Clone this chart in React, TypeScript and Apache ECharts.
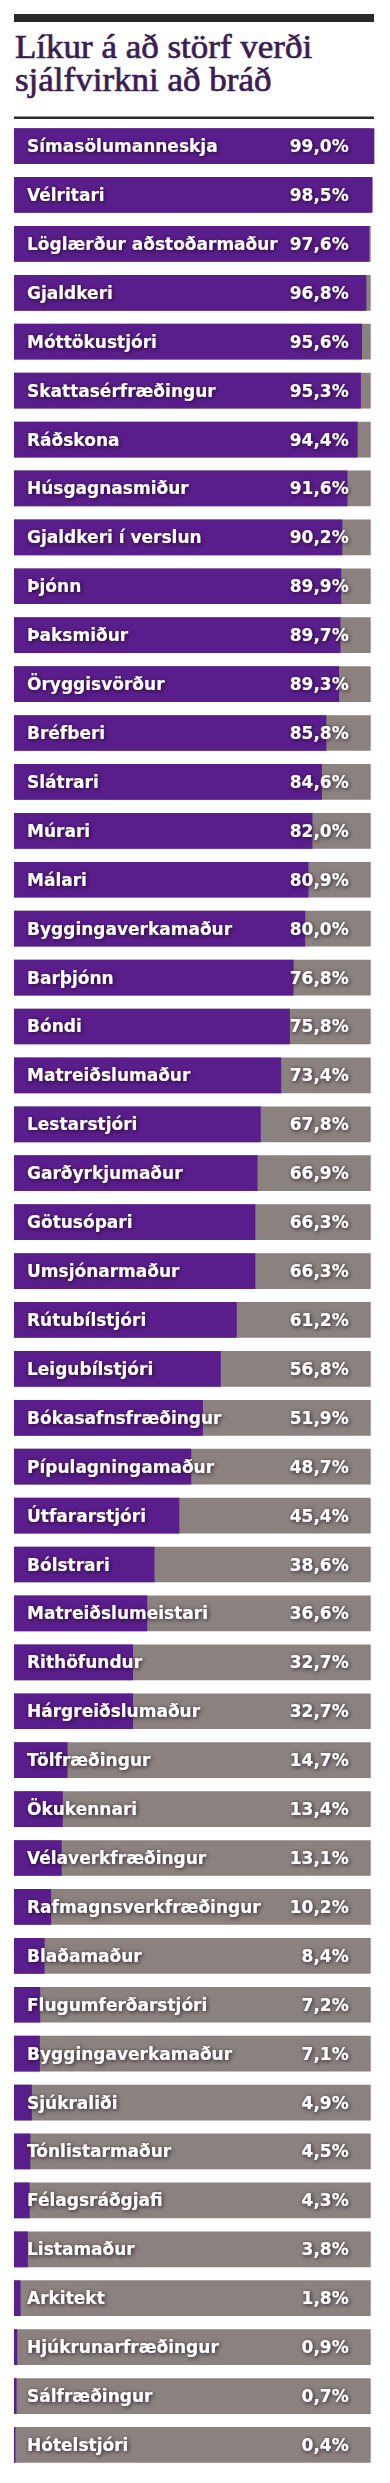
import React, { useEffect, useRef } from "react";
import * as echarts from "echarts";

const TITLE_LINES = ["Líkur á að störf verði", "sjálfvirkni að bráð"];

const NAMES = [
  "Símasölumanneskja", "Vélritari", "Löglærður aðstoðarmaður", "Gjaldkeri", "Móttökustjóri",
  "Skattasérfræðingur", "Ráðskona", "Húsgagnasmiður", "Gjaldkeri í verslun", "Þjónn",
  "Þaksmiður", "Öryggisvörður", "Bréfberi", "Slátrari", "Múrari",
  "Málari", "Byggingaverkamaður", "Barþjónn", "Bóndi", "Matreiðslumaður",
  "Lestarstjóri", "Garðyrkjumaður", "Götusópari", "Umsjónarmaður", "Rútubílstjóri",
  "Leigubílstjóri", "Bókasafnsfræðingur", "Pípulagningamaður", "Útfararstjóri", "Bólstrari",
  "Matreiðslumeistari", "Rithöfundur", "Hárgreiðslumaður", "Tölfræðingur", "Ökukennari",
  "Vélaverkfræðingur", "Rafmagnsverkfræðingur", "Blaðamaður", "Flugumferðarstjóri", "Byggingaverkamaður",
  "Sjúkraliði", "Tónlistarmaður", "Félagsráðgjafi", "Listamaður", "Arkitekt",
  "Hjúkrunarfræðingur", "Sálfræðingur", "Hótelstjóri",
];

const VALUES = [
  99.0, 98.5, 97.6, 96.8, 95.6,
  95.3, 94.4, 91.6, 90.2, 89.9,
  89.7, 89.3, 85.8, 84.6, 82.0,
  80.9, 80.0, 76.8, 75.8, 73.4,
  67.8, 66.9, 66.3, 66.3, 61.2,
  56.8, 51.9, 48.7, 45.4, 38.6,
  36.6, 32.7, 32.7, 14.7, 13.4,
  13.1, 10.2, 8.4, 7.2, 7.1,
  4.9, 4.5, 4.3, 3.8, 1.8,
  0.9, 0.7, 0.4,
];

// grey track length (in axis units)
const TRACK = 98;

const PURPLE = "#5a1e8c";
const GREY = "#8b817f";

const fmt = (v: number) => v.toFixed(1).replace(".", ",") + "%";

const labelBase = {
  show: true,
  color: "#ffffff",
  fontFamily: "DejaVu Sans",
  fontWeight: "bold" as const,
  fontSize: 17,
  textShadowColor: "rgba(20,0,30,0.8)",
  textShadowBlur: 4,
  textShadowOffsetX: 1,
  textShadowOffsetY: 1,
};

export default function App() {
  const ref = useRef<HTMLDivElement>(null);
  useEffect(() => {
    if (!ref.current) return;
    const chart = echarts.init(ref.current, null, { renderer: "svg" });
    const track = VALUES.map(() => TRACK);
    chart.setOption({
      animation: false,
      backgroundColor: "#ffffff",
      grid: { left: 14, right: 12, top: 121.6, bottom: 13.6 },
      xAxis: { type: "value", min: 0, max: 100, show: false },
      yAxis: {
        type: "category",
        data: NAMES.slice(),
        inverse: true,
        show: false,
      },
      graphic: [
        { type: "rect", shape: { x: 14, y: 14, width: 360, height: 8 }, style: { fill: "#2a2a2a" } },
        {
          type: "text",
          x: 15,
          y: 47,
          scaleX: 1.06,
          style: {
            text: TITLE_LINES[0],
            font: "33px 'Liberation Serif'",
            fill: "#3b1d56",
            stroke: "#3b1d56",
            lineWidth: 0.7,
            verticalAlign: "middle",
          },
        },
        {
          type: "text",
          x: 15,
          y: 80,
          scaleX: 1.06,
          style: {
            text: TITLE_LINES[1],
            font: "33px 'Liberation Serif'",
            fill: "#3b1d56",
            stroke: "#3b1d56",
            lineWidth: 0.7,
            verticalAlign: "middle",
          },
        },
        { type: "rect", shape: { x: 14, y: 116.5, width: 360, height: 2.5 }, style: { fill: "#2a2a2a" } },
      ],
      series: [
        {
          type: "bar",
          data: track,
          barCategoryGap: "27%",
          barGap: "-100%",
          itemStyle: { color: GREY },
          silent: true,
          z: 1,
        },
        {
          type: "bar",
          data: VALUES,
          barGap: "-100%",
          itemStyle: { color: PURPLE },
          silent: true,
          z: 2,
        },
        {
          type: "bar",
          data: track,
          barGap: "-100%",
          itemStyle: { color: "rgba(0,0,0,0)" },
          silent: true,
          z: 3,
          label: {
            ...labelBase,
            position: "insideLeft",
            distance: 13,
            formatter: (p: any) => NAMES[p.dataIndex],
          },
        },
        {
          type: "bar",
          data: track,
          barGap: "-100%",
          itemStyle: { color: "rgba(0,0,0,0)" },
          silent: true,
          z: 4,
          label: {
            ...labelBase,
            position: "insideRight",
            distance: 22,
            formatter: (p: any) => fmt(VALUES[p.dataIndex]),
          },
        },
      ],
    });
    return () => chart.dispose();
  }, []);
  return (
    <div
      ref={ref}
      style={{ position: "absolute", left: 0, top: 0, width: 390, height: 2483, background: "#fff" }}
    />
  );
}
